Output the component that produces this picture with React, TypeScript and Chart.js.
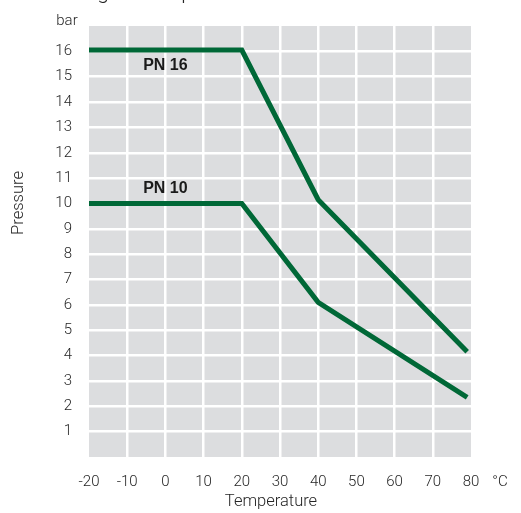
import React, { useEffect, useRef } from "react";
import { Chart, registerables } from "chart.js";

Chart.register(...registerables);

const pn16Temps = [-20, 20, 40, 79];
const pn16Pressure = [16.05, 16.05, 10.15, 4.15];
const pn10Temps = [-20, 20, 40, 79];
const pn10Pressure = [10, 10, 6.1, 2.35];
const xTickValues = [-20, -10, 0, 10, 20, 30, 40, 50, 60, 70, 80];
const yTickValues = [1, 2, 3, 4, 5, 6, 7, 8, 9, 10, 11, 12, 13, 14, 15, 16];
const seriesNames = ["PN 16", "PN 10"];
const seriesLabelTemp = [0, 0];
const seriesLabelPressure = [15.45, 10.6];

const GREEN = "#006837";
const BG = "#dcdddf";
const TEXT = "#262626";
const FONT = "Roboto";

const decorPlugin = {
  id: "decor",
  beforeDraw(chart: any) {
    const { ctx, chartArea } = chart;
    ctx.save();
    ctx.fillStyle = BG;
    ctx.fillRect(chartArea.left, chartArea.top, chartArea.right - chartArea.left, chartArea.bottom - chartArea.top);
    ctx.restore();
  },
  afterDraw(chart: any) {
    const { ctx, scales } = chart;
    ctx.save();
    ctx.fillStyle = TEXT;
    // cut-off title at top
    ctx.font = `300 21px ${FONT}`;
    ctx.textAlign = "left";
    ctx.textBaseline = "alphabetic";
    ctx.fillText("Pressure rating vs. temperature", -30, -1);
    // unit labels
    ctx.font = `300 15px ${FONT}`;
    ctx.textAlign = "center";
    ctx.fillText("bar", 67, 25);
    ctx.textBaseline = "middle";
    ctx.fillText("°C", 500, 482);
    ctx.font = `300 16.5px ${FONT}`;
    ctx.fillText("Temperature", 271, 502);
    ctx.save();
    ctx.translate(19, 203);
    ctx.rotate(-Math.PI / 2);
    ctx.fillText("Pressure", 0, 0);
    ctx.restore();
    // series labels
    ctx.font = `bold 16px "Liberation Sans"`;
    ctx.fillStyle = "#1a1a1a";
    seriesNames.forEach((name, i) => {
      const x = scales.x.getPixelForValue(seriesLabelTemp[i]);
      const y = scales.y.getPixelForValue(seriesLabelPressure[i]);
      ctx.fillText(name, x, y);
    });
    ctx.restore();
  },
};

export default function App() {
  const ref = useRef<HTMLCanvasElement>(null);
  useEffect(() => {
    if (!ref.current) return;
    const chart = new Chart(ref.current, {
      type: "line",
      data: {
        datasets: [
          {
            label: seriesNames[0],
            data: pn16Temps.map((t, i) => ({ x: t, y: pn16Pressure[i] })),
            borderColor: GREEN,
            borderWidth: 5,
            pointRadius: 0,
            tension: 0,
            borderJoinStyle: "miter",
          },
          {
            label: seriesNames[1],
            data: pn10Temps.map((t, i) => ({ x: t, y: pn10Pressure[i] })),
            borderColor: GREEN,
            borderWidth: 5,
            pointRadius: 0,
            tension: 0,
            borderJoinStyle: "miter",
          },
        ],
      },
      options: {
        animation: false,
        responsive: true,
        maintainAspectRatio: false,
        layout: { padding: { top: 26, right: 50, left: 0, bottom: 0 } },
        plugins: { legend: { display: false }, tooltip: { enabled: false } },
        scales: {
          x: {
            type: "linear",
            min: -20,
            max: 80,
            afterBuildTicks: (scale: any) => {
              scale.ticks = xTickValues.map((v) => ({ value: v }));
            },
            afterFit: (scale: any) => {
              scale.height = 56;
            },
            border: { display: false },
            grid: {
              drawTicks: false,
              lineWidth: 2.5,
              color: (c: any) =>
                c.tick && (c.tick.value === -20 || c.tick.value === 80) ? "rgba(0,0,0,0)" : "#ffffff",
            },
            ticks: {
              padding: 16,
              maxRotation: 0,
              autoSkip: false,
              color: TEXT,
              font: { family: FONT, size: 15, weight: "300" as any },
            },
          },
          y: {
            type: "linear",
            min: 0,
            max: 17,
            afterBuildTicks: (scale: any) => {
              scale.ticks = yTickValues.map((v) => ({ value: v }));
            },
            afterFit: (scale: any) => {
              scale.width = 89;
            },
            border: { display: false },
            grid: { drawTicks: false, lineWidth: 2.5, color: "#ffffff" },
            ticks: {
              padding: 17,
              autoSkip: false,
              color: TEXT,
              font: { family: FONT, size: 15, weight: "300" as any },
            },
          },
        },
      },
      plugins: [decorPlugin],
    });
    return () => chart.destroy();
  }, []);
  return (
    <div style={{ position: "absolute", left: 0, top: 0, width: 521, height: 513, background: "#fff" }}>
      <canvas ref={ref} />
    </div>
  );
}
